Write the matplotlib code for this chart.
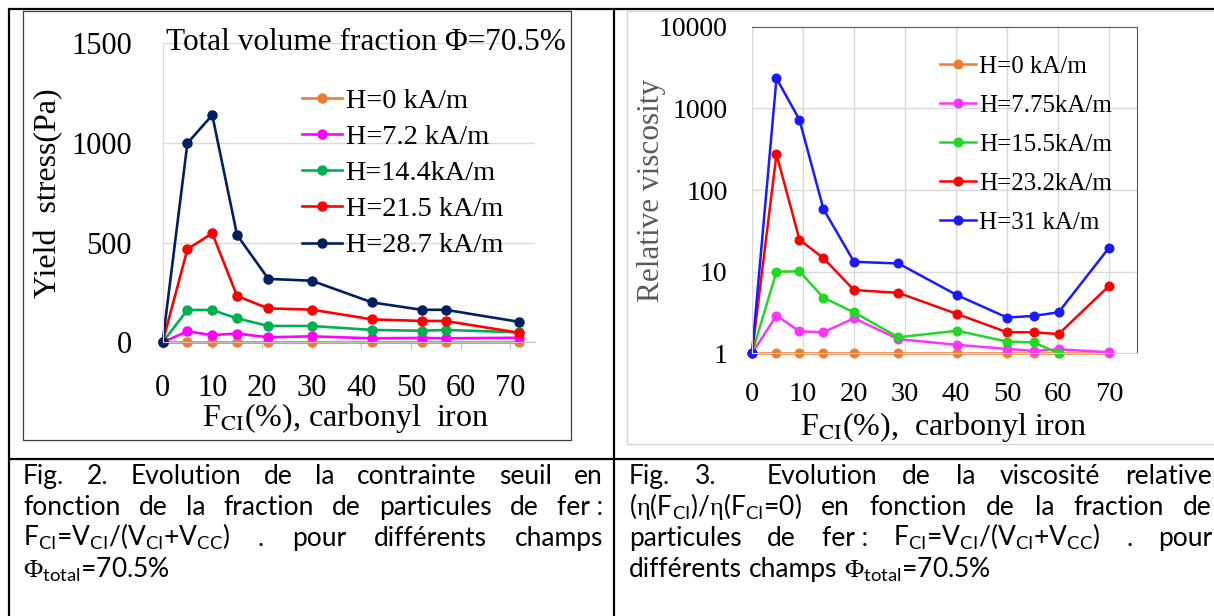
import matplotlib
matplotlib.use('Agg')
import matplotlib.pyplot as plt
from matplotlib.ticker import NullLocator

W, H = 1214, 616

# ---------------------------------------------------------
# Data
# ---------------------------------------------------------
# Fig. 2 : yield stress (Pa) vs F_CI (%)
fci_left = [0, 5, 10, 15, 21.3, 30, 42.2, 52.2, 57, 71.7]
yield_h0 = [0, 0, 0, 0, 0, 0, 0, 0, 0, 0]
yield_h72 = [0, 55, 36, 44, 25, 30, 20, 22, 20, 23]
yield_h144 = [0, 162, 162, 120, 82, 82, 62, 58, 62, 50]
yield_h215 = [0, 467, 547, 232, 170, 164, 115, 107, 107, 48]
yield_h287 = [0, 999, 1140, 538, 318, 309, 200, 163, 163, 103]
left_labels = ['H=0 kA/m', 'H=7.2 kA/m', 'H=14.4kA/m', 'H=21.5 kA/m', 'H=28.7 kA/m']
left_colors = ['#ed7d31', '#ff00ff', '#00b050', '#ff0000', '#002060']
left_yticks = [0, 500, 1000, 1500]

# Fig. 3 : relative viscosity vs F_CI (%)
fci_right = [0, 4.8, 9.3, 14, 20, 28.7, 40.2, 50, 55.2, 60.1, 70]
visc_h0 = [1, 1, 1, 1, 1, 1, 1, 1, 1, 1, 1]
visc_h775 = [1, 2.9, 1.86, 1.81, 2.69, 1.49, 1.27, 1.13, 1.07, 1.12, 1.03]
visc_h155 = [1, 10.0, 10.1, 4.8, 3.17, 1.57, 1.89, 1.39, 1.36, 1.0]  # stops at 60 %
visc_h232 = [1, 275, 24.7, 14.6, 5.95, 5.5, 3.03, 1.81, 1.81, 1.72, 6.7]
visc_h31 = [1, 2330, 725, 58.5, 13.2, 12.6, 5.15, 2.74, 2.87, 3.18, 19.7]
right_labels = ['H=0 kA/m', 'H=7.75kA/m', 'H=15.5kA/m', 'H=23.2kA/m', 'H=31 kA/m']
right_colors = ['#ed7d31', '#ff33ff', '#22d822', '#ff0000', '#1a1aff']
right_yticks = [1, 10, 100, 1000, 10000]

xticks = list(range(0, 71, 10))

plt.rcParams['font.family'] = 'Liberation Serif'
plt.rcParams['mathtext.fontset'] = 'custom'
plt.rcParams['mathtext.rm'] = 'Lato'
plt.rcParams['mathtext.sf'] = 'Liberation Serif'

fig = plt.figure(figsize=(W / 100, H / 100), dpi=100)


def fig_box(x0, x1, top, bottom):
    # pixel box -> figure fraction rect
    return [x0 / W, 1 - bottom / H, (x1 - x0) / W, (bottom - top) / H]


# ---------------------------------------------------------
# Left panel
# ---------------------------------------------------------
axl = fig.add_axes(fig_box(162.6, 535, 43.3, 342.3))
axl.set_facecolor('none')
for ys, c, lab in zip([yield_h0, yield_h72, yield_h144, yield_h215, yield_h287],
                      left_colors, left_labels):
    axl.plot(fci_left, ys, color=c, lw=1.9, marker='o', ms=6.5, label=lab, clip_on=False)
axl.set_xlim(0, 75)
axl.set_ylim(0, 1500)
axl.set_xticks(xticks)
axl.set_yticks(left_yticks)
axl.grid(axis='y', color='#d9d9d9', lw=1)
axl.set_axisbelow(True)
for s in ['top', 'right']:
    axl.spines[s].set_visible(False)
axl.spines['left'].set_color('#d9d9d9')
axl.spines['bottom'].set_color('#bfbfbf')
axl.tick_params(axis='x', direction='out', length=5, color='#bfbfbf', pad=17.5, labelsize=22)
axl.tick_params(axis='y', length=0, pad=22, labelsize=22)
axl.legend(loc='upper left', bbox_to_anchor=(301.6 / W, 1 - 88 / H),
           bbox_transform=fig.transFigure, frameon=False, borderpad=0, borderaxespad=0,
           handlelength=1.45, handletextpad=0.11, labelspacing=0.37, numpoints=1,
           prop={'family': 'Liberation Serif', 'size': 20.3})

# ---------------------------------------------------------
# Right panel
# ---------------------------------------------------------
axr = fig.add_axes(fig_box(752, 1137.2, 26.7, 353.3))
axr.set_facecolor('none')
right_series = [visc_h0, visc_h775, visc_h155, visc_h232, visc_h31]
for ys, c, lab in zip(right_series, right_colors, right_labels):
    axr.plot(fci_right[:len(ys)], ys, color=c, lw=1.8, marker='o', ms=6.2, label=lab, clip_on=False)
axr.set_yscale('log')
axr.set_ylim(1, 10000)
axr.set_xlim(0, 75.5)
axr.set_xticks(xticks)
axr.set_yticks(right_yticks)
axr.set_yticklabels([str(v) for v in right_yticks])
axr.yaxis.set_minor_locator(NullLocator())
axr.grid(True, color='#d9d9d9', lw=1)
axr.set_axisbelow(True)
axr.spines['left'].set_color('#d9d9d9')
axr.spines['bottom'].set_color('#d9d9d9')
axr.spines['top'].set_color('#595959')
axr.spines['right'].set_color('#595959')
axr.tick_params(axis='x', length=0, pad=21, labelsize=20.5)
axr.tick_params(axis='y', length=0, pad=17.6, labelsize=20)
axr.legend(loc='upper left', bbox_to_anchor=(940 / W, 1 - 55.5 / H),
           bbox_transform=fig.transFigure, frameon=False, borderpad=0, borderaxespad=0,
           handlelength=1.43, handletextpad=0.12, labelspacing=0.66, numpoints=1,
           prop={'family': 'Liberation Serif', 'size': 18})

# ---------------------------------------------------------
# Overlay in pixel coordinates: table rules, frames, labels, captions
# ---------------------------------------------------------
ov = fig.add_axes([0, 0, 1, 1], zorder=5)
ov.set_xlim(0, W)
ov.set_ylim(H, 0)
ov.axis('off')

# table rules
ov.plot([8, W], [8.5, 8.5], color='black', lw=1.6, solid_capstyle='butt')
ov.plot([9, 9], [8, H], color='black', lw=1.6, solid_capstyle='butt')
ov.plot([613.5, 613.5], [8, H], color='black', lw=1.6, solid_capstyle='butt')
ov.plot([8, W], [459, 459], color='black', lw=1.6, solid_capstyle='butt')
# picture frames
ov.plot([23, 23, 571, 571, 23], [10.5, 440, 440, 10.5, 10.5], color='#404040', lw=0.9)
ov.plot([W, 627, 627, W], [10.5, 10.5, 444, 444], color='#d4d4d4', lw=0.9)

# panel texts
ov.text(166.5, 50, 'Total volume fraction \u03a6=70.5%', fontsize=22.5, ha='left', va='baseline')
ov.text(48.6, 193, 'Yield  stress(Pa)', fontsize=23, rotation=90, ha='center', va='center')
ov.text(346, 418, r'F$_{\mathrm{CI}}$(%), carbonyl  iron', fontsize=23,
        ha='center', va='center', math_fontfamily='stix')
ov.text(651, 190.7, 'Relative viscosity', fontsize=22.5, rotation=90, ha='center',
        va='center', color='#595959')
ov.text(944, 427, r'F$_{\mathrm{CI}}$(%),  carbonyl iron', fontsize=23,
        ha='center', va='center', math_fontfamily='stix')

# captions (justified like the Word table)
cap_kw = dict(fontsize=19, family=['Lato', 'DejaVu Sans'], va='baseline', ha='left',
              math_fontfamily='custom', color='black')
renderer = fig.canvas.get_renderer()

sp = ov.text(0, 0, 'x x', **cap_kw)
sp2 = ov.text(0, 0, 'xx', **cap_kw)
space_w = sp.get_window_extent(renderer).width - sp2.get_window_extent(renderer).width
sp.remove()
sp2.remove()

CI = r'$_{\mathrm{CI}}$'
CC = r'$_{\mathrm{CC}}$'
PHI = r'$\mathsf{\Phi}_{\mathrm{total}}$'
ETA = r'$\mathsf{\eta}$'
FRAC = 'F' + CI + '=V' + CI + '/(V' + CI + '+V' + CC + ')'

left_caption = [
    'Fig. 2. Evolution de la contrainte seuil en',
    'fonction de la fraction de particules de fer~:',
    FRAC + ' . pour différents champs',
    PHI + '=70.5%',
]
right_caption = [
    'Fig. 3.  Evolution de la viscosité relative',
    '(' + ETA + '(F' + CI + ')/' + ETA + '(F' + CI + '=0) en fonction de la fraction de',
    'particules de fer~: ' + FRAC + ' . pour',
    'différents champs ' + PHI + '=70.5%',
]
baselines = [484, 515, 546, 577]


def put_line(line, x0, x1, y, justify):
    tokens = [t.replace('~', ' ') for t in line.split(' ')]
    arts, widths = [], []
    for tok in tokens:
        if tok:
            t = ov.text(x0, y, tok, **cap_kw)
            arts.append(t)
            widths.append(t.get_window_extent(renderer).width)
        else:
            arts.append(None)
            widths.append(0.0)
    gaps = len(tokens) - 1
    gap = (x1 - x0 - sum(widths)) / gaps if (justify and gaps) else space_w
    x = x0
    for t, w in zip(arts, widths):
        if t is not None:
            t.set_x(x)
        x += w + gap


for i, (ll, rl) in enumerate(zip(left_caption, right_caption)):
    last = i == len(baselines) - 1
    put_line(ll, 23, 603, baselines[i], not last)
    put_line(rl, 629, 1212, baselines[i], not last)

fig.savefig('out.png', dpi=100)
